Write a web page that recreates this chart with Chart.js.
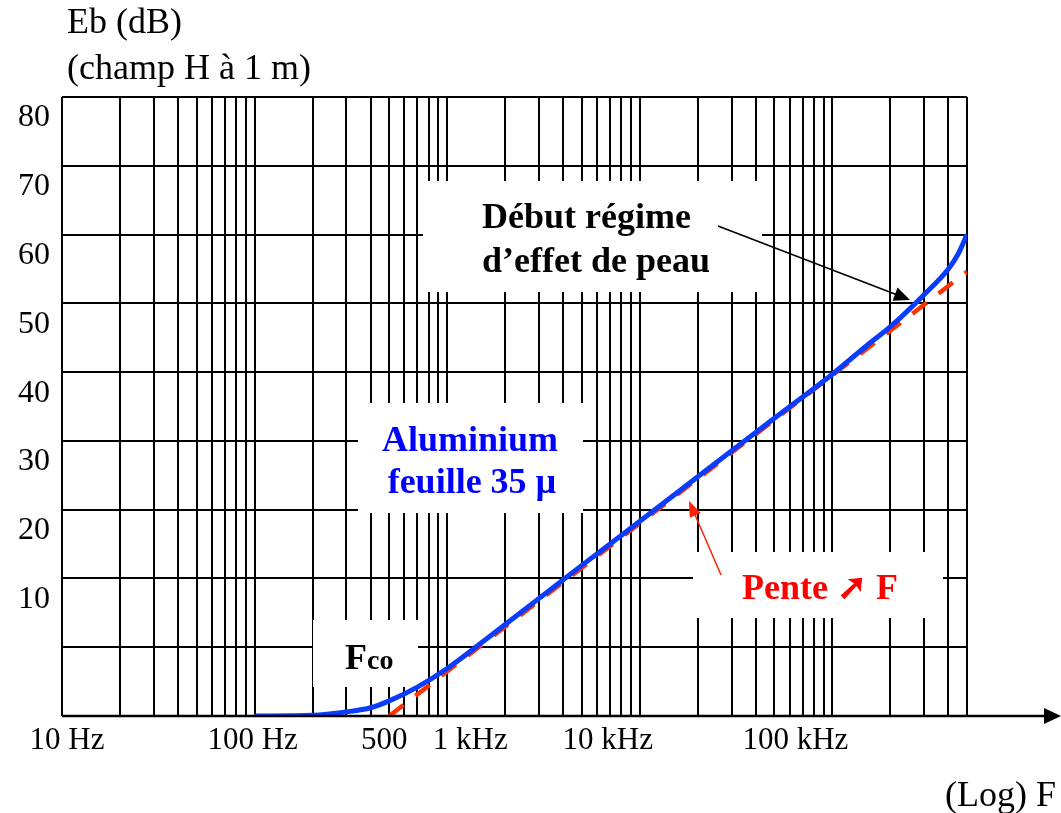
<!DOCTYPE html>
<html>
<head>
<meta charset="utf-8">
<script src="https://cdn.jsdelivr.net/npm/chart.js@4.4.0/dist/chart.umd.min.js"></script>
<style>
  body { margin: 0; background: #fff; }
  #wrap { width: 1061px; height: 813px; position: relative; }
</style>
</head>
<body>
<div id="wrap"><canvas id="attenuation"></canvas></div>
<script>
// courbe mesuree : aluminium feuille 35 µ (Hz / dB)
const alFreq = [100, 200, 300, 400, 500, 700, 1000, 1500, 2000, 3000, 5000, 10000, 20000, 50000, 100000, 150000, 200000, 300000, 400000, 450000, 500000];
const alDb   = [-10, -9.9, -9.4, -8.8, -7.8, -5.8, -3.1, 0.6, 3.3, 7.1, 11.9, 18.3, 24.8, 33.3, 39.7, 43.8, 46.6, 51.3, 55.0, 57.2, 60];

// asymptote "pente ↗ F"
const penteFreq = [500, 500000];
const penteDb   = [-10, 54.6];

const yTickValues = [10, 20, 30, 40, 50, 60, 70, 80];
const xTickValues = [10, 100, 500, 1000, 10000, 100000];
const xTickLabels = ['10 Hz', '100 Hz', '500', '1 kHz', '10 kHz', '100 kHz'];

// pointes des fleches (Hz, dB)
const skinTip  = [253000, 50.5];
const slopeTip = [18000, 21.3];

const serif = "'Liberation Serif', 'Times New Roman', serif";

// grille log 1..9 par decade
const gridFreq = [];
[10, 100, 1000, 10000, 100000].forEach(d => {
  for (let k = 1; k <= 9; k++) if (k * d <= 500000) gridFreq.push(k * d);
});
const gridDb = [];
for (let v = -10; v <= 80; v += 10) gridDb.push(v);

function arrow(c, x1, y1, x2, y2, color, len, half) {
  const a = Math.atan2(y2 - y1, x2 - x1);
  c.strokeStyle = color; c.fillStyle = color; c.lineWidth = 1.5;
  c.beginPath(); c.moveTo(x1, y1);
  c.lineTo(x2 - Math.cos(a) * len * 0.8, y2 - Math.sin(a) * len * 0.8); c.stroke();
  c.beginPath();
  c.moveTo(x2, y2);
  c.lineTo(x2 - Math.cos(a) * len - Math.sin(a) * half, y2 - Math.sin(a) * len + Math.cos(a) * half);
  c.lineTo(x2 - Math.cos(a) * len + Math.sin(a) * half, y2 - Math.sin(a) * len - Math.cos(a) * half);
  c.closePath(); c.fill();
}

const notes = {
  id: 'notes',
  beforeDatasetsDraw(chart) {
    const c = chart.ctx;
    c.save();
    c.fillStyle = '#fff';
    [[423, 181, 762, 292], [358, 403, 583, 513], [313, 620, 418, 687], [693, 552, 943, 618]]
      .forEach(b => c.fillRect(b[0], b[1], b[2] - b[0], b[3] - b[1]));
    c.restore();
  },
  afterDatasetsDraw(chart) {
    const c = chart.ctx, xs = chart.scales.x, ys = chart.scales.y, a = chart.chartArea;
    c.save();
    // axe F avec fleche
    c.strokeStyle = '#000'; c.fillStyle = '#000'; c.lineWidth = 2.5;
    c.beginPath(); c.moveTo(a.left, a.bottom); c.lineTo(1046, a.bottom); c.stroke();
    c.beginPath(); c.moveTo(1061, a.bottom); c.lineTo(1044, a.bottom - 8); c.lineTo(1044, a.bottom + 8); c.closePath(); c.fill();

    // etiquettes de l'axe F
    const shift = [5, -2, -5, 23, -32, -37];
    c.font = '31px ' + serif; c.textAlign = 'center'; c.textBaseline = 'alphabetic';
    xTickValues.forEach((v, i) => c.fillText(xTickLabels[i], xs.getPixelForValue(v) + shift[i], 749));

    // titres des axes
    c.font = '36px ' + serif; c.textAlign = 'left';
    c.fillText('Eb (dB)', 67, 33);
    c.fillText('(champ H à 1 m)', 67, 79);
    c.textAlign = 'right';
    c.fillText('(Log) F', 1056, 806);

    // annotations
    c.textAlign = 'left';
    c.font = 'bold 36px ' + serif;
    c.fillText('Début régime', 482, 228);
    c.fillText('d’effet de peau', 482, 272);
    arrow(c, 718, 226, xs.getPixelForValue(skinTip[0]), ys.getPixelForValue(skinTip[1]), '#000', 16, 7);

    c.fillStyle = '#0000ff'; c.textAlign = 'center';
    c.fillText('Aluminium', 470, 451);
    c.fillText('feuille 35 µ', 472, 493);

    c.fillStyle = '#000'; c.textAlign = 'left';
    c.fillText('F', 345, 669);
    const fw = c.measureText('F').width;
    c.font = 'bold 28px ' + serif;
    c.fillText('co', 345 + fw, 669);

    c.font = 'bold 36px ' + serif;
    c.fillStyle = '#ff0000';
    c.fillText('Pente ➚ F', 742, 599);
    arrow(c, 721, 575, xs.getPixelForValue(slopeTip[0]), ys.getPixelForValue(slopeTip[1]), '#ff2200', 16, 6);
    c.restore();
  }
};

new Chart(document.getElementById('attenuation'), {
  type: 'line',
  data: {
    datasets: [
      {
        label: 'Aluminium feuille 35 µ',
        data: alFreq.map((f, i) => ({ x: f, y: alDb[i] })),
        borderColor: '#0a3cff',
        borderWidth: 5,
        pointRadius: 0,
        cubicInterpolationMode: 'monotone',
        fill: false
      },
      {
        label: 'Pente',
        data: penteFreq.map((f, i) => ({ x: f, y: penteDb[i] })),
        borderColor: '#ff3300',
        borderWidth: 4.5,
        borderDash: [18, 15],
        pointRadius: 0,
        fill: false
      }
    ]
  },
  options: {
    responsive: true,
    maintainAspectRatio: false,
    animation: false,
    layout: { padding: { left: 0, top: 97, right: 94, bottom: 97 } },
    plugins: { legend: { display: false }, tooltip: { enabled: false } },
    scales: {
      x: {
        type: 'logarithmic',
        min: 10,
        max: 500000,
        afterBuildTicks: s => { s.ticks = gridFreq.map(v => ({ value: v })); },
        afterFit: s => { s.height = 0; },
        ticks: { display: false },
        grid: { color: '#000', lineWidth: 2, drawTicks: false },
        border: { display: false }
      },
      y: {
        min: -10,
        max: 80,
        afterBuildTicks: s => { s.ticks = gridDb.map(v => ({ value: v })); },
        afterFit: s => { s.width = 62; },
        ticks: {
          callback: v => yTickValues.includes(v) ? String(v) : '',
          font: { family: serif, size: 32 },
          color: '#000',
          labelOffset: 21,
          padding: 12
        },
        grid: { color: '#000', lineWidth: 2, drawTicks: false },
        border: { display: false }
      }
    }
  },
  plugins: [notes]
});
</script>
</body>
</html>
